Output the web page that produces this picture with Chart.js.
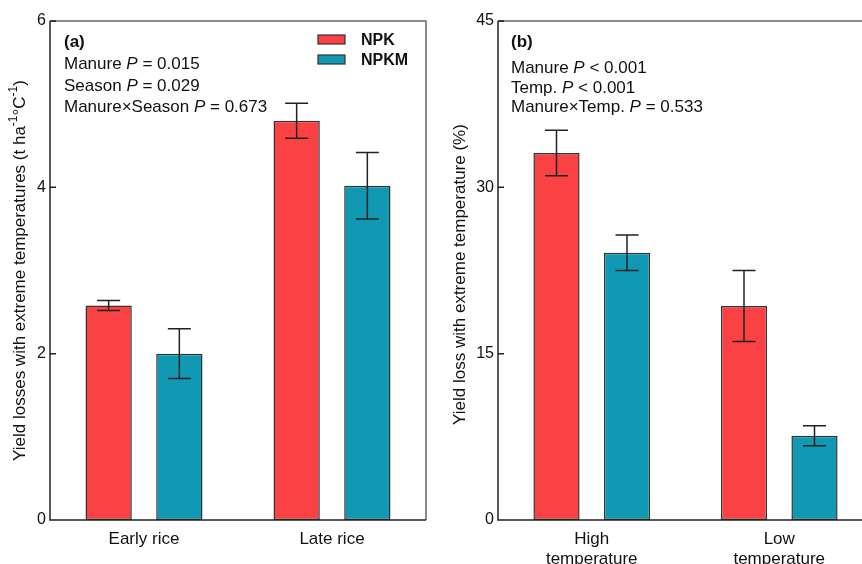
<!DOCTYPE html>
<html>
<head>
<meta charset="utf-8">
<script src="https://cdn.jsdelivr.net/npm/chart.js@4.4.0/dist/chart.umd.min.js"></script>
<style>
  html, body { margin: 0; padding: 0; background: #fff; overflow: hidden; }
  body { width: 862px; height: 564px; position: relative; }
  #chartA { position: absolute; left: 0; top: 0; }
  #chartB { position: absolute; left: 431px; top: 0; }
</style>
</head>
<body>
<canvas id="chartA" width="431" height="564"></canvas>
<canvas id="chartB" width="460" height="564"></canvas>
<script>
// Dati pannello (a)
const categoriesA = ['Early rice', 'Late rice'];
const npkA = [2.58, 4.80];
const npkmA = [2.00, 4.02];
const npkErrA = [0.06, 0.21];
const npkmErrA = [0.30, 0.40];
const ticksA = [0, 2, 4, 6];

// Dati pannello (b)
const categoriesB = [['High', 'temperature'], ['Low', 'temperature']];
const npkB = [33.1, 19.3];
const npkmB = [24.1, 7.6];
const npkErrB = [2.05, 3.2];
const npkmErrB = [1.6, 0.9];
const ticksB = [0, 15, 30, 45];

const FONT = '"Liberation Sans", Arial, sans-serif';
const RED = '#FA4245';
const TEAL = '#1199B4';

function runFont(style, size) {
  if (style === 'b') return 'bold ' + size + 'px ' + FONT;
  if (style === 'i') return 'italic ' + size + 'px ' + FONT;
  if (style === 'sup') return Math.round(size * 0.68) + 'px ' + FONT;
  return size + 'px ' + FONT;
}

// testo con corsivo / apice
function drawRuns(ctx, runs, x, y, size, center) {
  let w = 0;
  runs.forEach(r => { ctx.font = runFont(r[1], size); w += ctx.measureText(r[0]).width; });
  let cx = center ? x - w / 2 : x;
  runs.forEach(r => {
    ctx.font = runFont(r[1], size);
    const dy = r[1] === 'sup' ? -size * 0.38 : 0;
    ctx.fillText(r[0], cx, y + dy);
    cx += ctx.measureText(r[0]).width;
  });
}

// barre di errore
const errorBars = {
  id: 'errorBars',
  afterDatasetsDraw(chart) {
    const ctx = chart.ctx, y = chart.scales.y;
    ctx.save();
    ctx.strokeStyle = '#222';
    ctx.lineWidth = 1.5;
    chart.data.datasets.forEach((ds, i) => {
      chart.getDatasetMeta(i).data.forEach((bar, j) => {
        const v = ds.data[j], e = ds.errors[j];
        const top = y.getPixelForValue(v + e), bot = y.getPixelForValue(v - e);
        ctx.beginPath();
        ctx.moveTo(bar.x, top); ctx.lineTo(bar.x, bot);
        ctx.moveTo(bar.x - 11.5, top); ctx.lineTo(bar.x + 11.5, top);
        ctx.moveTo(bar.x - 11.5, bot); ctx.lineTo(bar.x + 11.5, bot);
        ctx.stroke();
      });
    });
    ctx.restore();
  }
};

// cornice, tacche, testi
const panelDecor = {
  id: 'panelDecor',
  afterDraw(chart, args, opts) {
    const ctx = chart.ctx, a = chart.chartArea, y = chart.scales.y;
    ctx.save();
    ctx.lineWidth = 1.5;
    ctx.strokeStyle = '#666';
    ctx.beginPath();
    ctx.moveTo(a.left, a.top); ctx.lineTo(a.right, a.top); ctx.lineTo(a.right, a.bottom);
    ctx.stroke();
    ctx.strokeStyle = '#222';
    ctx.beginPath();
    ctx.moveTo(a.left, a.top); ctx.lineTo(a.left, a.bottom); ctx.lineTo(a.right, a.bottom);
    y.ticks.forEach(t => {
      const py = y.getPixelForValue(t.value);
      ctx.moveTo(a.left, py); ctx.lineTo(a.left + 6, py);
    });
    ctx.stroke();

    ctx.fillStyle = '#111';
    ctx.textAlign = 'left';
    ctx.textBaseline = 'alphabetic';
    opts.notes.forEach(n => drawRuns(ctx, n.runs, opts.noteX, n.y, 17, false));

    if (opts.legend) {
      chart.data.datasets.forEach((ds, i) => {
        const ly = opts.legend.y + i * 20;
        ctx.fillStyle = ds.backgroundColor;
        ctx.fillRect(opts.legend.x, ly - 9, 27, 9);
        ctx.strokeStyle = '#333';
        ctx.lineWidth = 1.2;
        ctx.strokeRect(opts.legend.x, ly - 9, 27, 9);
        ctx.fillStyle = '#111';
        ctx.font = 'bold 16px ' + FONT;
        ctx.fillText(ds.label, opts.legend.x + 43, ly + 1);
      });
    }

    ctx.translate(opts.titleX, (a.top + a.bottom) / 2 + opts.titleDy);
    ctx.rotate(-Math.PI / 2);
    ctx.textBaseline = 'middle';
    ctx.fillStyle = '#111';
    drawRuns(ctx, opts.title, 0, 0, 17, true);
    ctx.restore();
  }
};

function makeChart(id, cats, npk, npkm, npkErr, npkmErr, ticks, pad, yWidth, decor) {
  return new Chart(document.getElementById(id), {
    type: 'bar',
    data: {
      labels: cats,
      datasets: [
        { label: 'NPK', data: npk, errors: npkErr, backgroundColor: RED },
        { label: 'NPKM', data: npkm, errors: npkmErr, backgroundColor: TEAL }
      ]
    },
    plugins: [errorBars, panelDecor],
    options: {
      responsive: false,
      animation: false,
      layout: { padding: pad },
      datasets: {
        bar: {
          borderColor: '#333', borderWidth: 1.5, borderSkipped: false,
          categoryPercentage: 0.752, barPercentage: 0.655
        }
      },
      plugins: {
        legend: { display: false },
        tooltip: { enabled: false },
        panelDecor: decor
      },
      scales: {
        x: {
          grid: { display: false }, border: { display: false },
          ticks: { color: '#111', font: { family: FONT, size: 17, lineHeight: 1.15 }, padding: 2 },
          afterFit: s => { s.height = 44; }
        },
        y: {
          min: ticks[0], max: ticks[ticks.length - 1],
          grid: { display: false, drawTicks: false }, border: { display: false },
          ticks: { stepSize: ticks[1] - ticks[0], color: '#111', font: { family: FONT, size: 16 }, padding: 4 },
          afterFit: s => { s.width = yWidth; }
        }
      }
    }
  });
}

makeChart('chartA', categoriesA, npkA, npkmA, npkErrA, npkmErrA, ticksA,
  { left: 0, top: 21, right: 5, bottom: 0 }, 50, {
    noteX: 64,
    notes: [
      { y: 47, runs: [['(a)', 'b']] },
      { y: 69, runs: [['Manure ', ''], ['P', 'i'], [' = 0.015', '']] },
      { y: 91, runs: [['Season ', ''], ['P', 'i'], [' = 0.029', '']] },
      { y: 112, runs: [['Manure\u00d7Season ', ''], ['P', 'i'], [' = 0.673', '']] }
    ],
    legend: { x: 318, y: 44 },
    titleX: 20,
    titleDy: 0,
    title: [['Yield losses with extreme temperatures (t ha', ''], ['-1', 'sup'], ['\u00b0C', ''], ['-1', 'sup'], [')', '']]
  });

makeChart('chartB', categoriesB, npkB, npkmB, npkErrB, npkmErrB, ticksB,
  { left: 0, top: 21, right: 18, bottom: 0 }, 67, {
    noteX: 80,
    notes: [
      { y: 47, runs: [['(b)', 'b']] },
      { y: 73, runs: [['Manure ', ''], ['P', 'i'], [' < 0.001', '']] },
      { y: 93, runs: [['Temp. ', ''], ['P', 'i'], [' < 0.001', '']] },
      { y: 112, runs: [['Manure\u00d7Temp. ', ''], ['P', 'i'], [' = 0.533', '']] }
    ],
    legend: null,
    titleX: 29,
    titleDy: 4,
    title: [['Yield loss with extreme temperature (%)', '']]
  });
</script>
</body>
</html>
